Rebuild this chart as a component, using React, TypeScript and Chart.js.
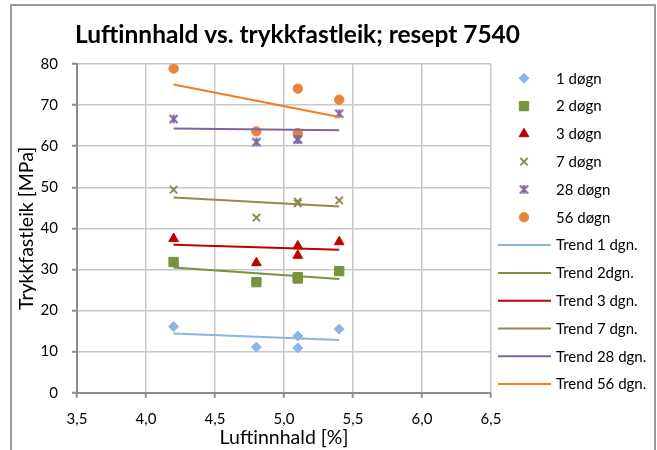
import React, { useEffect, useRef } from 'react';
import { Chart, registerables } from 'chart.js';
import { drawPoint } from 'chart.js/helpers';

Chart.register(...registerables);

const chartTitle = 'Luftinnhald vs. trykkfastleik; resept 7540';
const xAxisTitle = 'Luftinnhald [%]';
const yAxisTitle = 'Trykkfastleik [MPa]';

const airContent = [4.2, 4.8, 5.1, 5.1, 5.4];
const strength1d = [16.1, 11.1, 13.8, 10.9, 15.5];
const strength2d = [31.8, 26.9, 27.8, 28.1, 29.6];
const strength3d = [37.5, 31.6, 35.7, 33.4, 36.7];
const strength7d = [49.4, 42.6, 46.5, 46.1, 46.8];
const strength28d = [66.6, 61.0, 61.7, 61.6, 67.9];
const strength56d = [78.9, 63.6, 74.0, 63.2, 71.3];

const trendX = [4.2, 5.4];
const trend1d = [14.4, 12.8];
const trend2d = [30.5, 27.7];
const trend3d = [36.0, 34.8];
const trend7d = [47.5, 45.3];
const trend28d = [64.3, 63.9];
const trend56d = [75.0, 67.1];

const seriesLabels = ['1 døgn', '2 døgn', '3 døgn', '7 døgn', '28 døgn', '56 døgn'];
const trendLabels = ['Trend 1 dgn.', 'Trend 2dgn.', 'Trend 3 dgn.', 'Trend 7 dgn.', 'Trend 28 dgn.', 'Trend 56 dgn.'];
const xTickLabels = ['3,5', '4,0', '4,5', '5,0', '5,5', '6,0', '6,5'];
const yTickLabels = ['0', '10', '20', '30', '40', '50', '60', '70', '80'];

const markerColors = ['#8DB4E2', '#77933C', '#C00000', '#948A54', '#8064A2', '#E8833A'];
const trendColors = ['#8DB4E2', '#77933C', '#C00000', '#948A54', '#8064A2', '#F47C20'];

const FONT = 'Lato, "Open Sans", sans-serif';

function toPoints(xs: number[], ys: number[]) {
  return ys.map((y, i) => ({ x: xs[i], y }));
}

function makeStar(color: string): HTMLCanvasElement {
  const s = 11;
  const c = document.createElement('canvas');
  c.width = s;
  c.height = s;
  const g = c.getContext('2d')!;
  g.strokeStyle = color;
  g.lineWidth = 2;
  const m = 1.5;
  g.beginPath();
  g.moveTo(m, m);
  g.lineTo(s - m, s - m);
  g.moveTo(s - m, m);
  g.lineTo(m, s - m);
  g.moveTo(s / 2, m - 0.5);
  g.lineTo(s / 2, s - m + 0.5);
  g.stroke();
  return c;
}

const excelDecor = {
  id: 'excelDecor',
  afterDraw(chart: any) {
    const ctx: CanvasRenderingContext2D = chart.ctx;
    ctx.save();
    // title
    let size = 24;
    ctx.font = `bold ${size}px ${FONT}`;
    const w = ctx.measureText(chartTitle).width;
    size = (size * 445) / w;
    ctx.font = `bold ${size}px ${FONT}`;
    ctx.fillStyle = '#000';
    ctx.textAlign = 'center';
    ctx.textBaseline = 'alphabetic';
    ctx.fillText(chartTitle, 297.5, 43);

    // legend
    const top = 78.3;
    const step = 27.8;
    ctx.textAlign = 'left';
    ctx.textBaseline = 'middle';
    ctx.font = `15px ${FONT}`;
    chart.data.datasets.forEach((ds: any, i: number) => {
      const y = top + i * step;
      if (ds.showLine) {
        ctx.strokeStyle = ds.borderColor;
        ctx.lineWidth = 2;
        ctx.beginPath();
        ctx.moveTo(498, y);
        ctx.lineTo(551, y);
        ctx.stroke();
      } else {
        ctx.fillStyle = ds.pointBackgroundColor;
        ctx.strokeStyle = ds.pointBorderColor;
        ctx.lineWidth = ds.pointBorderWidth;
        drawPoint(ctx, { pointStyle: ds.pointStyle, radius: ds.pointRadius, rotation: 0, borderWidth: ds.pointBorderWidth } as any, 524, y);
      }
      ctx.fillStyle = '#000';
      ctx.fillText(ds.label, 556, y + 0.5);
    });
    ctx.restore();
  },
};

export default function App() {
  const ref = useRef<HTMLCanvasElement>(null);
  useEffect(() => {
    const star = makeStar(markerColors[4]);
    const seriesValues = [strength1d, strength2d, strength3d, strength7d, strength28d, strength56d];
    const trendValues = [trend1d, trend2d, trend3d, trend7d, trend28d, trend56d];
    const styles: any[] = ['rectRot', 'rect', 'triangle', 'crossRot', star, 'circle'];
    const radii = [5, 6.6, 5.6, 5.2, 5.5, 4.7];
    const borderW = [1, 1, 1, 2, 0, 1];
    const markerSets = seriesValues.map((vals, i) => ({
      type: 'scatter',
      label: seriesLabels[i],
      data: toPoints(airContent, vals),
      showLine: false,
      pointStyle: styles[i],
      pointRadius: radii[i],
      pointHoverRadius: radii[i],
      pointBackgroundColor: markerColors[i],
      pointBorderColor: markerColors[i],
      pointBorderWidth: borderW[i],
      order: 1,
    }));
    const trendSets = trendValues.map((vals, i) => ({
      type: 'scatter',
      label: trendLabels[i],
      data: toPoints(trendX, vals),
      showLine: true,
      borderColor: trendColors[i],
      backgroundColor: trendColors[i],
      borderWidth: 2,
      pointRadius: 0,
      pointHoverRadius: 0,
      order: 0,
    }));
    const chart = new Chart(ref.current!, {
      type: 'scatter',
      data: { datasets: [...markerSets, ...trendSets] as any },
      options: {
        responsive: false,
        animation: false,
        devicePixelRatio: 1,
        layout: { padding: { left: 12, right: 166, top: 64, bottom: 0 } },
        plugins: {
          legend: { display: false },
          title: { display: false },
          tooltip: { enabled: false },
        },
        scales: {
          x: {
            type: 'linear',
            min: 3.5,
            max: 6.5,
            afterFit: (s: any) => { s.height = 57.3; },
            ticks: {
              stepSize: 0.5,
              padding: 12,
              maxRotation: 0,
              color: '#000',
              font: { family: FONT, size: 15 },
              callback: (_v: any, i: number) => xTickLabels[i],
            },
            grid: { color: '#c8c8c8', lineWidth: 1.5, tickLength: 5, tickColor: '#8c8c8c', tickWidth: 2 },
            border: { color: '#8c8c8c', width: 2 },
            title: { display: true, text: xAxisTitle, color: '#000', font: { family: FONT, size: 19.5 }, padding: { top: 0, bottom: 1 } },
          },
          y: {
            type: 'linear',
            min: 0,
            max: 80,
            afterFit: (s: any) => { s.width = 65; },
            ticks: {
              stepSize: 10,
              padding: 14,
              color: '#000',
              font: { family: FONT, size: 15 },
              callback: (_v: any, i: number) => yTickLabels[i],
            },
            grid: { color: '#c8c8c8', lineWidth: 1.5, tickLength: 5, tickColor: '#8c8c8c', tickWidth: 2 },
            border: { color: '#8c8c8c', width: 2 },
            title: { display: true, text: yAxisTitle, color: '#000', font: { family: FONT, size: 19.5 }, padding: { top: 3, bottom: 0 } },
          },
        },
      },
      plugins: [excelDecor],
    } as any);
    return () => chart.destroy();
  }, []);
  return (
    <div style={{ position: 'fixed', left: 0, top: 0, width: 657, height: 450, background: '#fff' }}>
      <canvas ref={ref} width={657} height={450} style={{ display: 'block', width: 657, height: 450 }} />
      <div
        style={{
          position: 'fixed',
          left: 10,
          top: 4,
          width: 646,
          height: 520,
          boxSizing: 'border-box',
          border: '2px solid #9a9a9a',
          pointerEvents: 'none',
        }}
      />
    </div>
  );
}
